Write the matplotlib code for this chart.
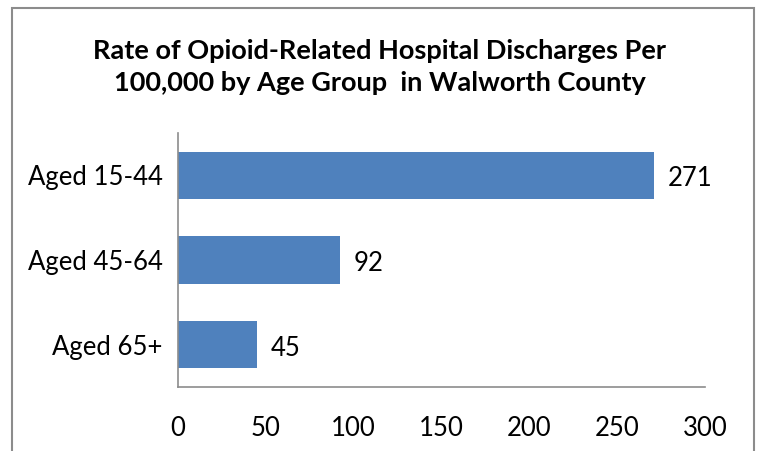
import matplotlib.pyplot as plt
from matplotlib.patches import Rectangle

# 数据
groups = ['Aged 15-44', 'Aged 45-64', 'Aged 65+']
rates = [271, 92, 45]
xticks = [0, 50, 100, 150, 200, 250, 300]

plt.rcParams['font.family'] = ['Lato', 'DejaVu Sans']

fig = plt.figure(figsize=(7.59, 4.51), dpi=100)
ax = fig.add_axes([0.2345, 0.142, 0.6944, 0.563])

# 外框
fig.patches.append(Rectangle((12 / 759, -0.01), 742 / 759, 1 - 8 / 451 + 0.01,
                             transform=fig.transFigure, fill=False,
                             edgecolor='#8c8c8c', linewidth=1.5))

pos = list(range(len(groups)))[::-1]
ax.barh(pos, rates, height=0.556, color='#4F81BD')
for p, v in zip(pos, rates):
    ax.text(v + 8, p - 0.04, str(v), va='center', ha='left', fontsize=18.5)

ax.set_xlim(0, 300)
ax.set_ylim(-0.5, 2.5)
ax.set_xticks(xticks)
ax.set_xticklabels([str(t) for t in xticks], fontsize=18.5)
ax.set_yticks(pos)
ax.set_yticklabels(groups, fontsize=18.5)
ax.tick_params(length=0, pad=21)
ax.tick_params(axis='y', pad=11)

for s in ['top', 'right']:
    ax.spines[s].set_visible(False)
for s in ['left', 'bottom']:
    ax.spines[s].set_color('#8c8c8c')
    ax.spines[s].set_linewidth(1.2)

fig.text(0.5, 0.852, 'Rate of Opioid-Related Hospital Discharges Per\n100,000 by Age Group  in Walworth County',
         ha='center', va='center', fontsize=19.5, fontweight='bold', linespacing=1.42)

plt.savefig('out.png', dpi=100)
